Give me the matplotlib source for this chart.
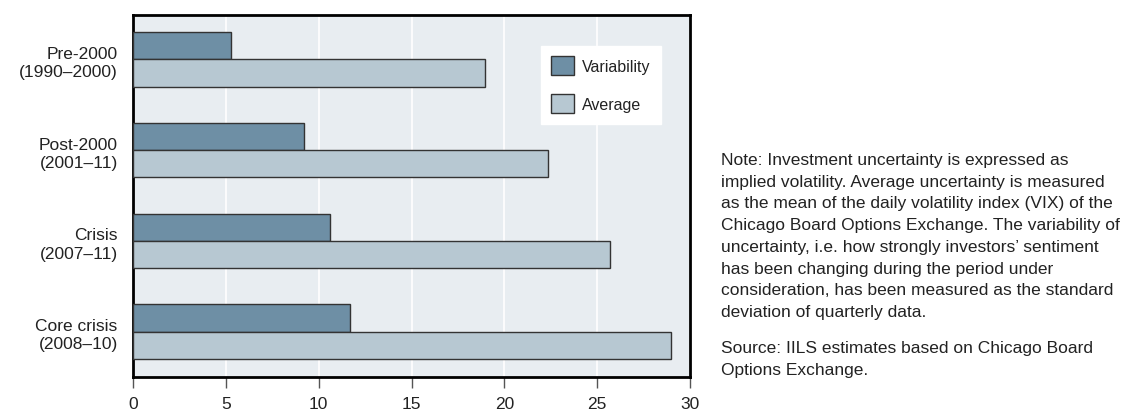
import matplotlib
matplotlib.use("Agg")
import matplotlib.pyplot as plt
import numpy as np
from matplotlib.patches import Patch

# data
categories = ["Pre-2000\n(1990–2000)", "Post-2000\n(2001–11)", "Crisis\n(2007–11)", "Core crisis\n(2008–10)"]
variability = [5.3, 9.2, 10.6, 11.7]
average = [18.95, 22.35, 25.7, 29.0]
xticks = [0, 5, 10, 15, 20, 25, 30]

note = ("Note: Investment uncertainty is expressed as\n"
        "implied volatility. Average uncertainty is measured\n"
        "as the mean of the daily volatility index (VIX) of the\n"
        "Chicago Board Options Exchange. The variability of\n"
        "uncertainty, i.e. how strongly investors’ sentiment\n"
        "has been changing during the period under\n"
        "consideration, has been measured as the standard\n"
        "deviation of quarterly data.")
source = "Source: IILS estimates based on Chicago Board\nOptions Exchange."

dark = "#6e8fa5"
light = "#b7c8d2"
bg = "#e8edf1"
txt = "#222222"

plt.rcParams['font.family'] = ['Liberation Sans', 'DejaVu Sans']

W, H = 1123, 414
fig = plt.figure(figsize=(W / 100, H / 100), dpi=100)
ax = fig.add_axes([133 / W, 1 - 378 / H, 557 / W, 362 / H])
ax.set_facecolor(bg)

y = np.arange(len(categories))
h = 0.3
ax.barh(y - h / 2, variability, height=h, color=dark, edgecolor="#333333", linewidth=1, zorder=3)
ax.barh(y + h / 2, average, height=h, color=light, edgecolor="#333333", linewidth=1, zorder=3)

ax.set_xlim(0, 30)
ax.set_ylim(3.5, -0.49)
ax.set_xticks(xticks)
ax.set_xticklabels([str(t) for t in xticks], fontsize=12.5, color=txt)
ax.set_yticks(y)
ax.set_yticklabels(categories, fontsize=12.5, color=txt, linespacing=1.28)
ax.tick_params(axis='y', length=0, pad=11)
ax.tick_params(axis='x', length=8, width=1, color="#555555", pad=6)
ax.grid(True, axis='x', color="white", linewidth=1.2, zorder=1)
for s in ax.spines.values():
    s.set_linewidth(2)
    s.set_color("black")

handles = [Patch(facecolor=dark, edgecolor="#333333", label="Variability"),
           Patch(facecolor=light, edgecolor="#333333", label="Average")]
leg = ax.legend(handles=handles, loc='upper left', bbox_to_anchor=(541 / W, 1 - 47 / H),
                bbox_transform=fig.transFigure, borderaxespad=0,
                frameon=True, fancybox=False, edgecolor="white", framealpha=1,
                fontsize=11.5, handlelength=1.44, handleheight=1.44, labelspacing=1.2,
                handletextpad=0.5, borderpad=0.65)
for t in leg.get_texts():
    t.set_color(txt)

fig.text(721 / W, 1 - 153 / H, note, fontsize=12.5, color=txt,
         va='top', ha='left', linespacing=1.56)
fig.text(721 / W, 1 - 341 / H, source, fontsize=12.5, color=txt,
         va='top', ha='left', linespacing=1.56)

fig.savefig("out.png", dpi=100)
